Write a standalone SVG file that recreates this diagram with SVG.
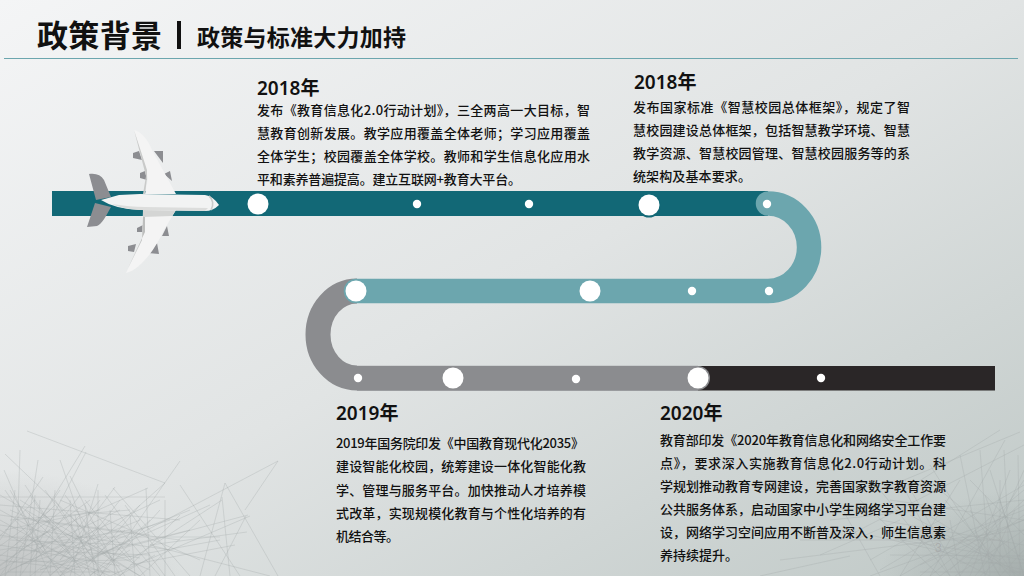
<svg xmlns="http://www.w3.org/2000/svg" width="1024" height="576" viewBox="0 0 1024 576">
<style>
.t{font-family:"Noto Sans CJK SC","Noto Sans",sans-serif;fill:#111}
.b{font-size:13px;font-weight:500}
.y{font-size:19px;font-weight:600;font-family:"Noto Sans","Noto Sans CJK SC",sans-serif;fill:#111}
.big{fill:#fff}
.sc{fill:none;stroke:#a4a8a8;stroke-width:.7;opacity:.45}
.eng{fill:#8c8d91}
</style>
<defs>
<linearGradient id="bg" x1="0" y1="0" x2="1" y2="1"><stop offset="0" stop-color="#f4f5f6"/><stop offset=".5" stop-color="#e1e4e4"/><stop offset="1" stop-color="#bfc8c6"/></linearGradient>
<radialGradient id="cl" cx="0" cy="1" r="1"><stop offset="0" stop-color="#a8abab" stop-opacity=".6"/><stop offset="1" stop-color="#a8abab" stop-opacity="0"/></radialGradient>
<radialGradient id="cr" cx="1" cy="1" r="1"><stop offset="0" stop-color="#8f9796" stop-opacity=".55"/><stop offset="1" stop-color="#8f9796" stop-opacity="0"/></radialGradient>
</defs>
<rect width="1024" height="576" fill="url(#bg)"/>
<rect x="0" y="470" width="180" height="106" fill="url(#cl)"/>
<rect x="880" y="490" width="144" height="86" fill="url(#cr)"/>
<g id="scribble">
<path class="sc" d="M27 431L165 483L60 576M85 446L5 576M38 460L20 576M60 460L100 576M86 452L30 560M70 476L120 576M43 477L0 540M98 490L98 576M98 484L70 576M5 454L95 540M20 450L16 576M4 470L50 576M115 487L60 560M148 488L30 540M113 488L190 576M146 488L150 576M180 461L100 576M278 461L90 560M278 461L245 510M180 485L240 576M225 483L200 576M225 483L278 576M248 515L40 570M250 516L110 576M222 497L230 576M222 500L130 560M165 500L165 576M130 510L10 520M10 510L150 570M60 500L200 560M30 520L180 540M0 550L130 530M110 520L50 576M75 515L90 576M40 500L35 576M15 520L65 576M5 530L100 510M20 500L140 576M70 540L0 576M130 540L60 576M30 540L110 576M0 560L80 570M50 530L0 565M90 530L30 576M120 530L160 576M150 520L90 576M246 516L215 576M247 532L150 545M150 545L270 576"/>
<path class="sc" d="M0 510L120 576M0 520L100 576M0 530L80 576M0 495L140 576M10 490L60 576M25 485L85 576M45 490L105 576M65 495L125 576M85 500L145 576M105 495L165 576M125 505L175 576M0 576L60 490M20 576L80 495M40 576L100 500M60 576L120 500M80 576L140 505M100 576L160 510M120 576L180 515M140 576L200 520M0 566L90 500M0 556L70 505M0 546L50 510M0 536L35 500M5 576L15 490M30 576L35 495M50 576L55 490M75 576L70 500M95 576L85 505M115 576L110 510M135 576L130 515M0 515L150 535M0 525L170 550M0 535L140 558M0 545L120 566M0 555L110 572M0 505L180 520M20 565L170 520M40 570L190 510M10 570L160 500M60 572L210 505M30 552L120 510M60 552L140 520M90 555L190 530M110 560L220 540M130 565L235 545M15 545L55 505M35 560L80 515M60 560L100 525M85 565L125 530M25 510L75 560M45 515L95 565M70 515L115 565M90 520L135 565M5 490L45 550M30 495L70 555M55 500L90 555M10 540L130 545M10 550L150 555M5 562L130 560M8 572L120 572M0 570L45 545M50 575L85 548M90 575L130 550M120 575L155 555"/>
<path d="M0 497H165M0 537H220" fill="none" stroke="#b5b8b8" stroke-width="1" opacity=".4"/>
<path class="sc" d="M1000 430L905 490L950 576M1020 432L880 490L950 576M1005 440L930 576M1024 445L840 540M990 470L1024 576M960 480L900 576M945 500L1010 576M920 510L1000 560M860 500L940 576M830 520L1024 500M800 540L1000 540M1024 520L870 576M1024 480L960 576M980 450L990 576M1010 470L970 576M900 540L1024 560M940 520L870 560M780 560L1024 530M1000 500L1024 576M970 510L1015 576M960 540L1024 576M1000 520L930 576M1024 540L980 576M850 556L760 576M840 505L880 576M820 555L900 520"/>
<path class="sc" d="M1004 450L1010 576M1018 455L1020 576M960 455L985 576M930 465L1000 576M905 480L960 576M1024 490L920 576M1024 505L900 576M1024 515L940 576M1024 530L955 576M1024 550L1000 576M880 520L1024 545M870 535L1024 570M890 555L1024 556M920 565L1024 520M950 570L1024 500M980 570L1024 470M1000 570L1000 480M890 500L1024 520M910 515L1020 576M940 490L1024 560M970 480L1024 535M985 495L1015 576M930 545L1024 510M880 570L1024 485M900 530L990 576M950 520L960 576M975 530L1000 576M1005 540L975 576M1015 510L985 576M1024 563L960 563M1024 572L920 572"/>
</g>
<g id="header">
<text class="t" x="37" y="47" font-size="31" font-weight="700" fill="#000" textLength="125">政策背景</text>
<rect x="177" y="21" width="4" height="28" fill="#111"/>
<text class="t" x="197" y="46" font-size="23" font-weight="700" textLength="209">政策与标准大力加持</text>
<rect x="4" y="58" width="1014" height="1" fill="#6ca6ae"/>
</g>
<g id="connectors">
<rect x="52" y="191" width="716" height="25" fill="#126876"/>
<path d="M357 291A39 43.5 0 0 0 357 378" fill="none" stroke="#8b8c8f" stroke-width="25"/>
<rect x="357" y="365.8" width="341" height="25" fill="#8b8c8f"/>
<rect x="698" y="366" width="297" height="24.5" fill="#2a2627"/>
<path d="M768 203.5A41 43.7 0 0 1 768 291H356" fill="none" stroke="#6ca6ae" stroke-width="24.5" stroke-linecap="round"/>
</g>
<g id="node-dots">
<circle cx="649" cy="206" r="11.5" fill="#126876"/>
<circle cx="698" cy="378" r="12" fill="#8b8c8f"/>
<circle class="big" cx="258" cy="204" r="10.5"/><circle class="big" cx="649" cy="205" r="10.5"/><circle class="big" cx="356" cy="291" r="10.5"/><circle class="big" cx="590" cy="291" r="10.5"/><circle class="big" cx="453" cy="378" r="10.5"/><circle class="big" cx="698" cy="378" r="10.5"/>
<circle class="big" cx="417" cy="204" r="4.2"/><circle class="big" cx="529" cy="204" r="4.2"/><circle class="big" cx="767" cy="204" r="4.2"/><circle class="big" cx="692" cy="291" r="4.2"/><circle class="big" cx="769" cy="291" r="4.2"/><circle class="big" cx="358" cy="378" r="4.2"/><circle class="big" cx="576" cy="379" r="4.2"/><circle class="big" cx="821" cy="378" r="4.2"/>
</g>
<g id="plane">
<path class="eng" d="M133 153L139 151L142 160L133 158ZM154 151L163 151L163 163ZM140 173L145 171L147 180L140 178ZM164 174L170 171L172 181ZM137 228L143 225L143 232L137 232ZM162 236L167 226L169 236ZM128 246L136 244L134 252L128 251ZM148 253L157 243L159 254Z"/>
<path fill="#8c8d91" d="M89 174C96 173 101 175 104 180L111 197L96 200ZM87 227L97 226C102 224 106 216 111 207L95 203Z"/>
<path fill="#f4f4f4" d="M134 130C142 132 148 140 152 150L176 194L145 194L148 178Z"/>
<path fill="#c9cac9" d="M134 130L147 170L147 178L145 194L143 194L146 176Z"/>
<path fill="#f4f4f4" d="M143 210L176 210L164 230C155 250 140 270 126 273L142 240Z"/>
<path fill="#d4d5d4" d="M143 210L176 210L172 216L143 217Z"/>
<path fill="#bdbebd" d="M143 217L145 217L145 232L128 268L126 272L142 240Z"/>
<path fill="#f2f3f3" d="M101 200L119 195L140 194L205 195Q213 196 219 205Q213 211 205 211L140 210Q115 209 101 200Z"/>
<path fill="#dcdddc" d="M112 204Q130 207 145 207L208 208L205 211L140 210Q122 209 112 204Z"/>
<path fill="none" stroke="#c9cac9" stroke-width="1.6" d="M209 196C213 199 214 205 211 210"/>
</g>
<g id="note-2018-a">
<text class="y" x="257" y="95">2018年</text>
<text class="t b"><tspan x="257" y="115" textLength="333">发布《教育信息化2.0行动计划》，三全两高一大目标，智</tspan><tspan x="257" y="138" textLength="333">慧教育创新发展。教学应用覆盖全体老师；学习应用覆盖</tspan><tspan x="257" y="161" textLength="333">全体学生；校园覆盖全体学校。教师和学生信息化应用水</tspan><tspan x="257" y="184" textLength="264">平和素养普遍提高。建立互联网+教育大平台。</tspan></text>
</g>
<g id="note-2018-b">
<text class="y" x="634" y="89">2018年</text>
<text class="t b"><tspan x="633" y="112" textLength="277">发布国家标准《智慧校园总体框架》，规定了智</tspan><tspan x="633" y="135" textLength="277">慧校园建设总体框架，包括智慧教学环境、智慧</tspan><tspan x="633" y="158" textLength="277">教学资源、智慧校园管理、智慧校园服务等的系</tspan><tspan x="633" y="181" textLength="118">统架构及基本要求。</tspan></text>
</g>
<g id="note-2019">
<text class="y" x="336" y="420">2019年</text>
<text class="t b"><tspan x="336" y="448" textLength="248">2019年国务院印发《中国教育现代化2035》</tspan><tspan x="336" y="471" textLength="250">建设智能化校园，统筹建设一体化智能化教</tspan><tspan x="336" y="495" textLength="250">学、管理与服务平台。加快推动人才培养模</tspan><tspan x="336" y="518" textLength="250">式改革，实现规模化教育与个性化培养的有</tspan><tspan x="336" y="541" textLength="63">机结合等。</tspan></text>
</g>
<g id="note-2020">
<text class="y" x="660" y="420">2020年</text>
<text class="t b"><tspan x="660" y="445" textLength="286">教育部印发《2020年教育信息化和网络安全工作要</tspan><tspan x="660" y="468" textLength="286">点》，要求深入实施教育信息化2.0行动计划。科</tspan><tspan x="660" y="491" textLength="286">学规划推动教育专网建设，完善国家数字教育资源</tspan><tspan x="660" y="514" textLength="286">公共服务体系，启动国家中小学生网络学习平台建</tspan><tspan x="660" y="537" textLength="286">设，网络学习空间应用不断普及深入，师生信息素</tspan><tspan x="660" y="560" textLength="78">养持续提升。</tspan></text>
</g>
<text x="935" y="552" font-family="Liberation Sans,sans-serif" font-size="12" fill="#a9acac">3</text>
</svg>
